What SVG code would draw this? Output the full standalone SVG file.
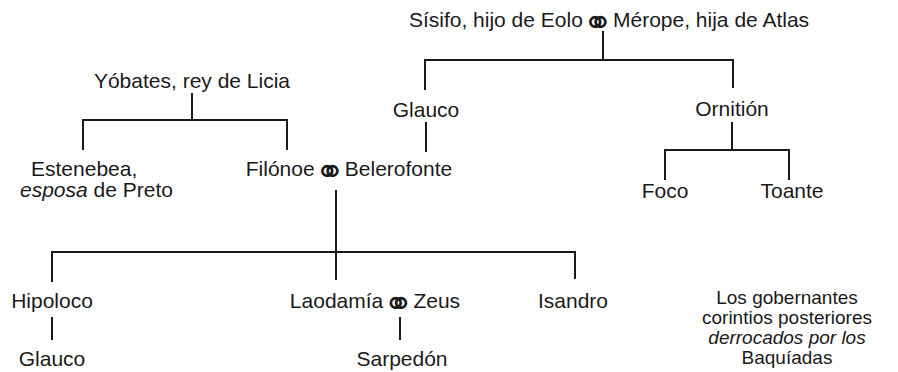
<svg xmlns="http://www.w3.org/2000/svg" width="898" height="372" viewBox="0 0 898 372">
<style>
text{font-family:"Liberation Sans","DejaVu Sans",sans-serif;font-size:21px;fill:#1a1a1a}
.m{text-anchor:middle}
.i{font-style:italic}
.s{font-family:"DejaVu Sans",sans-serif;font-size:36px}
#baquiadas text{font-size:19px}
#connectors path{fill:none;stroke:#1a1a1a;stroke-width:2}
</style>
<rect width="898" height="372" fill="#fff"/>
<g id="connectors">
<path d="M603 31V60M425 90V60H733V88"/>
<path d="M426 122V152"/>
<path d="M732 122V150M665 180V150H789V180"/>
<path d="M192 93V120M83 150V120H287V150"/>
<path d="M336 190V280M52 282V252H575V279"/>
<path d="M52 317V340"/>
<path d="M400 317V340"/>
</g>
<g id="sisifo"><text class="m" x="609" y="27">Sísifo, hijo de Eolo<tspan class="s" dy="8">⚭</tspan><tspan dy="-8">Mérope, hija de Atlas</tspan></text></g>
<g id="glauco1"><text class="m" x="426" y="117">Glauco</text></g>
<g id="ornition"><text class="m" x="732" y="116">Ornitión</text></g>
<g id="foco"><text class="m" x="665" y="198">Foco</text></g>
<g id="toante"><text class="m" x="792" y="198">Toante</text></g>
<g id="yobates"><text class="m" x="192" y="88">Yóbates, rey de Licia</text></g>
<g id="estenebea"><text x="31" y="176">Estenebea,</text><text x="20" y="197"><tspan class="i">esposa</tspan> de Preto</text></g>
<g id="filonoe"><text class="m" x="349" y="176">Filónoe<tspan class="s" dy="8">⚭</tspan><tspan dy="-8">Belerofonte</tspan></text></g>
<g id="hipoloco"><text class="m" x="52" y="308">Hipoloco</text></g>
<g id="glauco2"><text class="m" x="52" y="366">Glauco</text></g>
<g id="laodamia"><text class="m" x="375" y="308">Laodamía<tspan class="s" dy="8">⚭</tspan><tspan dy="-8">Zeus</tspan></text></g>
<g id="sarpedon"><text class="m" x="402" y="366">Sarpedón</text></g>
<g id="isandro"><text class="m" x="573" y="308">Isandro</text></g>
<g id="baquiadas"><text class="m" x="787" y="304">Los gobernantes</text><text class="m" x="787" y="324">corintios posteriores</text><text class="m i" x="787" y="344">derrocados por los</text><text class="m" x="787" y="364">Baquíadas</text></g>
</svg>
